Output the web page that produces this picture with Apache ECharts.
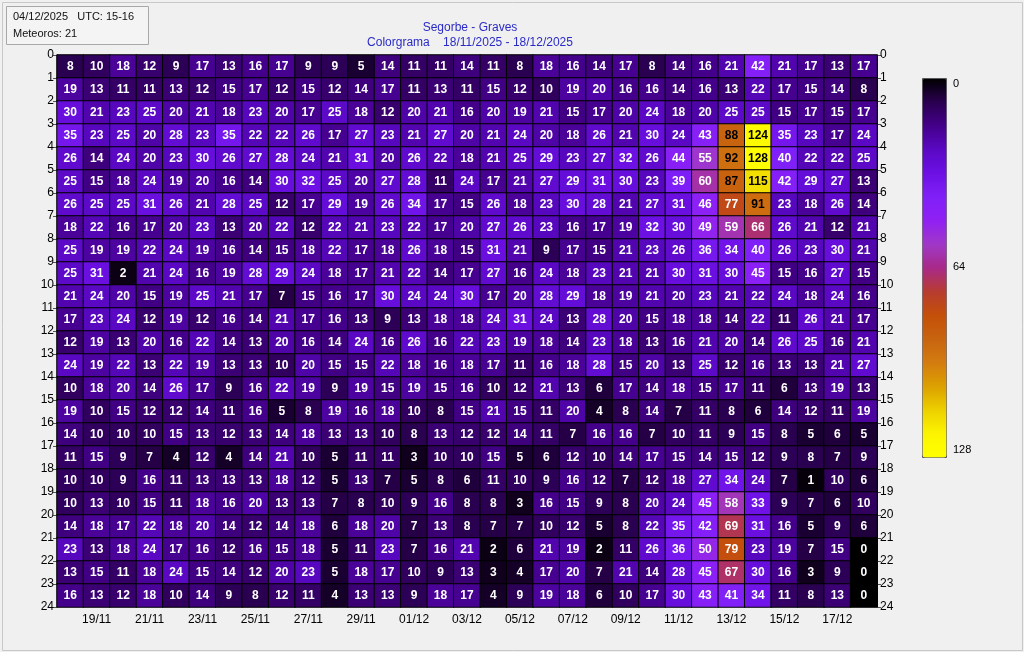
<!DOCTYPE html>
<html>
<head>
<meta charset="utf-8">
<script src="https://cdn.jsdelivr.net/npm/echarts@6/dist/echarts.min.js"></script>
<style>
  html, body { margin: 0; padding: 0; background: #f0f0f0; }
  #chart { width: 1024px; height: 652px; }
</style>
</head>
<body>
<div id="chart"></div>
<script>
const days = ['18/11','19/11','20/11','21/11','22/11','23/11','24/11','25/11','26/11','27/11','28/11','29/11','30/11',
  '01/12','02/12','03/12','04/12','05/12','06/12','07/12','08/12','09/12','10/12','11/12','12/12','13/12','14/12',
  '15/12','16/12','17/12','18/12']
const hours = ['0','1','2','3','4','5','6','7','8','9','10','11','12','13','14','15','16','17','18','19','20','21','22','23']

// meteor counts, one row per UTC hour, one value per day
const h00 = [8,10,18,12,9,17,13,16,17,9,9,5,14,11,11,14,11,8,18,16,14,17,8,14,16,21,42,21,17,13,17]
const h01 = [19,13,11,11,13,12,15,17,12,15,12,14,17,11,13,11,15,12,10,19,20,16,16,14,16,13,22,17,15,14,8]
const h02 = [30,21,23,25,20,21,18,23,20,17,25,18,12,20,21,16,20,19,21,15,17,20,24,18,20,25,25,15,17,15,17]
const h03 = [35,23,25,20,28,23,35,22,22,26,17,27,23,21,27,20,21,24,20,18,26,21,30,24,43,88,124,35,23,17,24]
const h04 = [26,14,24,20,23,30,26,27,28,24,21,31,20,26,22,18,21,25,29,23,27,32,26,44,55,92,128,40,22,22,25]
const h05 = [25,15,18,24,19,20,16,14,30,32,25,20,27,28,11,24,17,21,27,29,31,30,23,39,60,87,115,42,29,27,13]
const h06 = [26,25,25,31,26,21,28,25,12,17,29,19,26,34,17,15,26,18,23,30,28,21,27,31,46,77,91,23,18,26,14]
const h07 = [18,22,16,17,20,23,13,20,22,12,22,21,23,22,17,20,27,26,23,16,17,19,32,30,49,59,66,26,21,12,21]
const h08 = [25,19,19,22,24,19,16,14,15,18,22,17,18,26,18,15,31,21,9,17,15,21,23,26,36,34,40,26,23,30,21]
const h09 = [25,31,2,21,24,16,19,28,29,24,18,17,21,22,14,17,27,16,24,18,23,21,21,30,31,30,45,15,16,27,15]
const h10 = [21,24,20,15,19,25,21,17,7,15,16,17,30,24,24,30,17,20,28,29,18,19,21,20,23,21,22,24,18,24,16]
const h11 = [17,23,24,12,19,12,16,14,21,17,16,13,9,13,18,18,24,31,24,13,28,20,15,18,18,14,22,11,26,21,17]
const h12 = [12,19,13,20,16,22,14,13,20,16,14,24,16,26,16,22,23,19,18,14,23,18,13,16,21,20,14,26,25,16,21]
const h13 = [24,19,22,13,22,19,13,13,10,20,15,15,22,18,16,18,17,11,16,18,28,15,20,13,25,12,16,13,13,21,27]
const h14 = [10,18,20,14,26,17,9,16,22,19,9,19,15,19,15,16,10,12,21,13,6,17,14,18,15,17,11,6,13,19,13]
const h15 = [19,10,15,12,12,14,11,16,5,8,19,16,18,10,8,15,21,15,11,20,4,8,14,7,11,8,6,14,12,11,19]
const h16 = [14,10,10,10,15,13,12,13,14,18,13,13,10,8,13,12,12,14,11,7,16,16,7,10,11,9,15,8,5,6,5]
const h17 = [11,15,9,7,4,12,4,14,21,10,5,11,11,3,10,10,15,5,6,12,10,14,17,15,14,15,12,9,8,7,9]
const h18 = [10,10,9,16,11,13,13,13,18,12,5,13,7,5,8,6,11,10,9,16,12,7,12,18,27,34,24,7,1,10,6]
const h19 = [10,13,10,15,11,18,16,20,13,13,7,8,10,9,16,8,8,3,16,15,9,8,20,24,45,58,33,9,7,6,10]
const h20 = [14,18,17,22,18,20,14,12,14,18,6,18,20,7,13,8,7,7,10,12,5,8,22,35,42,69,31,16,5,9,6]
const h21 = [23,13,18,24,17,16,12,16,15,18,5,11,23,7,16,21,2,6,21,19,2,11,26,36,50,79,23,19,7,15,0]
const h22 = [13,15,11,18,24,15,14,12,20,23,5,18,17,10,9,13,3,4,17,20,7,21,14,28,45,67,30,16,3,9,0]
const h23 = [16,13,12,18,10,14,9,8,12,11,4,13,13,9,18,17,4,9,19,18,6,10,17,30,43,41,34,11,8,13,0]
const countsByHour = [h00,h01,h02,h03,h04,h05,h06,h07,h08,h09,h10,h11,h12,h13,h14,h15,h16,h17,h18,h19,h20,h21,h22,h23]

const colorbarMin = 0
const colorbarMax = 128
const colorbarStep = 64

const titleText = 'Segorbe - Graves'
const subText = 'Colorgrama    18/11/2025 - 18/12/2025'
const infoLine1 = '04/12/2025   UTC: 15-16'
const infoLine2 = 'Meteoros: 21'

// colour stops every 8 counts: black -> violet -> magenta -> red -> orange -> yellow
const PALETTE = [
  '#000000', '#2a0050', '#44008a', '#5a08c4', '#6c10e4', '#8020f8', '#9020f4', '#a038c8', '#a82a88',
  '#b83c30', '#c45008', '#c86410', '#d47c10', '#dca000', '#ecd000', '#fcf400', '#ffff00',
]

const data = []
countsByHour.forEach((row, h) => {
  row.forEach((v, d) => {
    // dark text on the bright orange/yellow cells
    data.push(v >= 85 ? { value: [d, h, v], label: { color: '#000' } } : [d, h, v])
  })
})

const oddOnly = (i) => i % 2 === 1
const FONT = 'Liberation Sans, Arial, sans-serif'
const AXIS_TEXT = { color: '#000', fontSize: 12, fontFamily: FONT }

const chart = echarts.init(document.getElementById('chart'))

chart.setOption({
  animation: false,
  backgroundColor: '#f0f0f0',
  title: {
    text: titleText,
    subtext: subText,
    left: 465,
    top: 17,
    textAlign: 'center',
    itemGap: 3,
    textStyle: { color: '#2a2ac8', fontSize: 12, fontWeight: 'normal', fontFamily: FONT },
    subtextStyle: { color: '#2a2ac8', fontSize: 12, fontFamily: FONT },
  },
  grid: [
    { left: 57, top: 55, width: 820, height: 552 },
    // colorbar scale
    { left: 922, top: 84, width: 24, height: 366 },
  ],
  xAxis: [
    {
      type: 'category',
      data: days,
      gridIndex: 0,
      axisLine: { lineStyle: { color: '#000' } },
      axisTick: { interval: oddOnly, alignWithLabel: true, length: 4, lineStyle: { color: '#555' } },
      axisLabel: { ...AXIS_TEXT, interval: oddOnly, margin: 7 },
      splitLine: { show: false },
    },
    { type: 'value', gridIndex: 1, show: false, min: 0, max: 1 },
  ],
  yAxis: [
    { type: 'category', data: hours, inverse: true, gridIndex: 0, show: false },
    {
      type: 'value', gridIndex: 0, position: 'left', min: 0, max: 24, interval: 1, inverse: true,
      axisLine: { show: true, lineStyle: { color: '#000' } },
      axisTick: { show: true, length: 4, lineStyle: { color: '#555' } },
      axisLabel: { ...AXIS_TEXT, margin: 3 },
      splitLine: { show: false },
    },
    {
      type: 'value', gridIndex: 0, position: 'right', min: 0, max: 24, interval: 1, inverse: true,
      axisLine: { show: true, lineStyle: { color: '#000' } },
      axisTick: { show: true, length: 4, lineStyle: { color: '#555' } },
      axisLabel: { ...AXIS_TEXT, margin: 3 },
      splitLine: { show: false },
    },
    {
      type: 'value', gridIndex: 1, position: 'right', min: colorbarMin, max: colorbarMax, interval: colorbarStep, inverse: true,
      axisLine: { show: false },
      axisTick: { show: false },
      axisLabel: { color: '#000', fontSize: 11, margin: 7, fontFamily: FONT },
      splitLine: { show: false },
    },
  ],
  visualMap: {
    type: 'continuous',
    min: colorbarMin,
    max: colorbarMax,
    inverse: true,
    calculable: false,
    orient: 'vertical',
    left: 922,
    top: 78,
    itemWidth: 24,
    itemHeight: 379,
    padding: 0,
    borderWidth: 1,
    borderColor: '#555',
    seriesIndex: 0,
    inRange: { color: PALETTE },
  },
  graphic: [
    {
      type: 'rect', left: 0, top: 0, z: 0, silent: true,
      shape: { width: 1020, height: 648 },
      style: { fill: 'none', stroke: '#c8c8c8', lineWidth: 1 },
    },
    {
      type: 'rect', left: 6, top: 6, z: 10,
      shape: { width: 142, height: 38 },
      style: { fill: '#f4f4f4', stroke: '#a8a8a8', lineWidth: 1 },
    },
    { type: 'text', left: 13, top: 11, z: 11, style: { text: infoLine1, fill: '#111', font: '11px "Liberation Sans", Arial, sans-serif' } },
    { type: 'text', left: 13, top: 28, z: 11, style: { text: infoLine2, fill: '#111', font: '11px "Liberation Sans", Arial, sans-serif' } },
  ],
  series: [
    {
      type: 'heatmap',
      xAxisIndex: 0,
      yAxisIndex: 0,
      data,
      label: { show: true, color: '#fff', fontSize: 12, fontWeight: 'bold', fontFamily: FONT },
      itemStyle: { borderColor: '#000', borderWidth: 1 },
      emphasis: { disabled: true },
    },
  ],
})
</script>
</body>
</html>
